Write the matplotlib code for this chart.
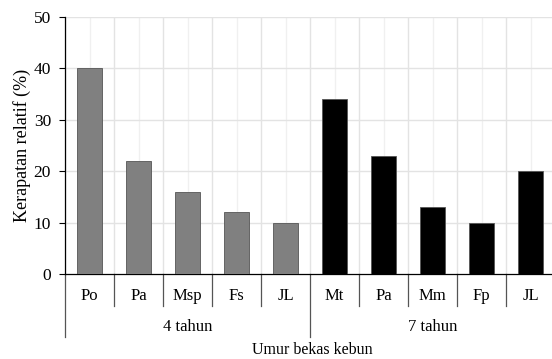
import matplotlib.pyplot as plt
import matplotlib.transforms as mtransforms

plt.rcParams['font.family'] = ['Liberation Serif', 'DejaVu Serif']

groups = ["4 tahun", "7 tahun"]
species_4 = ["Po", "Pa", "Msp", "Fs", "JL"]
density_4 = [40, 22, 16, 12, 10]
species_7 = ["Mt", "Pa", "Mm", "Fp", "JL"]
density_7 = [34, 23, 13, 10, 20]


def main():
    fig = plt.figure(figsize=(5.52, 3.59), dpi=100)
    ax = fig.add_axes([65 / 552, 1 - 274 / 359, 490 / 552, 257 / 359])

    labels = species_4 + species_7
    values = density_4 + density_7
    colors = ["#808080"] * len(density_4) + ["#000000"] * len(density_7)
    x = list(range(len(values)))

    ax.bar(x, values, width=0.53, color=colors, edgecolor="#555555",
           linewidth=0.6, zorder=3)

    ax.set_xlim(-0.5, len(values) - 0.5)
    ax.set_ylim(0, 50)
    ax.set_yticks(range(0, 51, 10))

    # grid: category borders, category centres and value lines
    for i in range(len(values) + 1):
        ax.axvline(i - 0.5, color="#e3e3e3", linewidth=1.0, zorder=1)
    for i in x:
        ax.axvline(i, color="#f0f0f0", linewidth=1.0, zorder=1)
    for v in range(10, 51, 10):
        ax.axhline(v, color="#e3e3e3", linewidth=1.0, zorder=1)

    for side in ["top", "right"]:
        ax.spines[side].set_visible(False)
    ax.spines["left"].set_linewidth(0.9)
    ax.spines["bottom"].set_linewidth(0.9)

    ax.set_xticks([])
    ax.tick_params(axis="y", length=4, width=0.8, labelsize=12.5, pad=6)

    trans = mtransforms.blended_transform_factory(ax.transData, ax.transAxes)
    for i, lab in enumerate(labels):
        ax.text(i, -0.085, lab, transform=trans, ha="center", va="center",
                fontsize=12)
    # separators between categories
    for i in range(1, len(values)):
        if i == len(species_4):
            continue
        ax.plot([i - 0.5, i - 0.5], [0, -0.125], transform=trans,
                color="#555555", linewidth=0.9, clip_on=False)
    # group separators
    for b in [-0.5, len(species_4) - 0.5]:
        ax.plot([b, b], [0, -0.245], transform=trans, color="#555555",
                linewidth=0.9, clip_on=False)

    ax.text((len(species_4) - 1) / 2, -0.205, groups[0], transform=trans,
            ha="center", va="center", fontsize=12)
    ax.text(len(species_4) + (len(species_7) - 1) / 2, -0.205, groups[1],
            transform=trans, ha="center", va="center", fontsize=12)

    fig.text(312 / 552, 1 - 350 / 359, "Umur bekas kebun", ha="center",
             va="center", fontsize=11.5)
    fig.text(22 / 552, 1 - 145 / 359, "Kerapatan relatif (%)", ha="center",
             va="center", rotation=90, fontsize=13)

    fig.savefig("out.png", dpi=100)


if __name__ == "__main__":
    main()
